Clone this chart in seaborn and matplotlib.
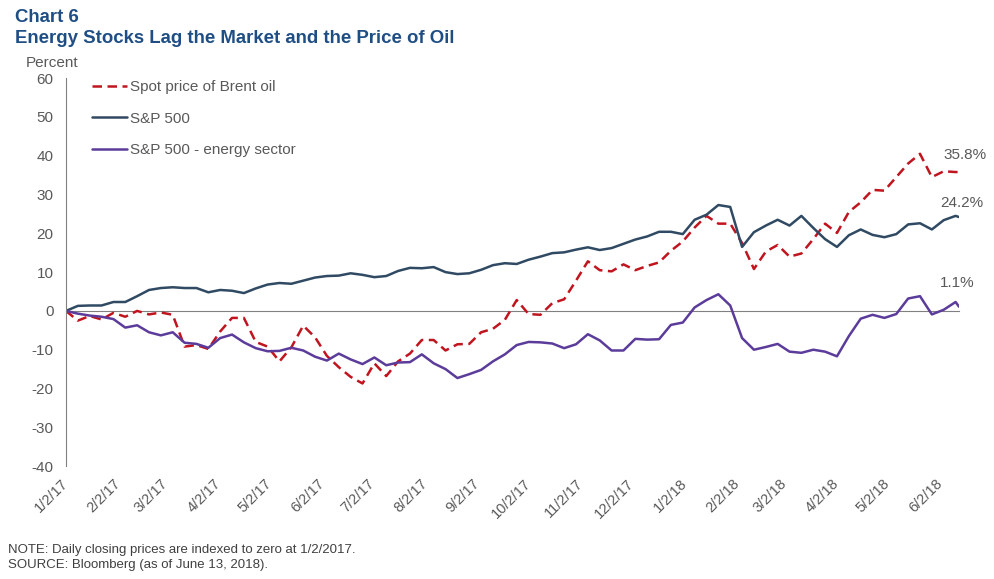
import pandas as pd
import seaborn as sns
import matplotlib.pyplot as plt
import matplotlib.dates as mdates

# weekly readings, 1/2/2017 to 6/13/2018 (percent change)
dates = list(pd.date_range("2017-01-02", "2018-06-11", freq="7D")) + [pd.Timestamp("2018-06-13")]

brent = [0, -2.5, -1.3, -2.2, -0.5, -1.5, 0.0, -0.9, -0.4, -1.0,
         -9.2, -8.8, -9.8, -5.3, -1.8, -1.8, -8.0, -9.2, -13.0, -9.4,
         -3.8, -6.8, -11.6, -14.5, -17.0, -18.7, -13.5, -16.8, -13.0, -11.0,
         -7.5, -7.5, -10.2, -8.6, -8.5, -5.5, -4.6, -2.3, 2.8,
         -0.8, -1.0, 2.0, 3.0, 7.8, 12.8, 10.5, 10.2, 12.0, 10.5,
         11.6, 12.5, 15.5, 17.9, 21.5, 24.5, 22.5, 22.5, 17.5,
         10.8, 15.3, 17.0, 14.0, 14.8, 18.5, 22.5, 20.1, 25.5, 28.0,
         31.2, 31.0, 34.5, 38.0, 40.5, 34.5, 36.0, 35.8, 35.8]

sp500 = [0, 1.3, 1.4, 1.4, 2.3, 2.3, 3.8, 5.4, 5.9, 6.1,
         5.9, 5.9, 4.8, 5.4, 5.2, 4.6, 5.8, 6.8, 7.2, 7.0,
         7.8, 8.6, 9.0, 9.1, 9.7, 9.3, 8.7, 9.0, 10.3, 11.1,
         11.0, 11.3, 10.0, 9.5, 9.7, 10.6, 11.8, 12.3, 12.1,
         13.2, 14.0, 14.9, 15.1, 15.8, 16.4, 15.7, 16.2, 17.3, 18.4,
         19.2, 20.4, 20.4, 19.8, 23.5, 24.8, 27.3, 26.8, 16.5,
         20.3, 22.0, 23.5, 22.0, 24.5, 21.4, 18.5, 16.5, 19.5, 21.0,
         19.6, 19.0, 19.8, 22.3, 22.6, 21.0, 23.4, 24.5, 24.2]

energy = [0, -0.7, -1.2, -1.5, -2.1, -4.3, -3.7, -5.5, -6.3, -5.5,
          -8.2, -8.5, -9.5, -7.0, -6.1, -8.1, -9.6, -10.4, -10.3, -9.5,
          -10.2, -11.8, -12.8, -11.0, -12.5, -13.7, -12.0, -14.0, -13.3, -13.2,
          -11.2, -13.5, -15.0, -17.3, -16.3, -15.2, -13.0, -11.2, -8.8,
          -8.0, -8.1, -8.4, -9.6, -8.6, -6.0, -7.6, -10.2, -10.2, -7.2,
          -7.4, -7.3, -3.6, -3.0, 0.9, 2.8, 4.3, 1.4, -7.0,
          -10.0, -9.3, -8.5, -10.5, -10.8, -10.0, -10.5, -11.7, -6.5, -2.0,
          -1.0, -1.8, -0.8, 3.2, 3.8, -0.9, 0.3, 2.3, 1.1]

df = pd.DataFrame({"date": dates, "brent": brent, "sp500": sp500, "energy": energy})

tick_dates = pd.date_range("2017-01-01", "2018-06-01", freq="MS") + pd.Timedelta(days=1)
tick_labels = [f"{d.month}/{d.day}/{d:%y}" for d in tick_dates]

sns.set_style("white")
plt.rcParams["font.family"] = ["Liberation Sans", "DejaVu Sans"]
plt.rcParams["axes.unicode_minus"] = False

gray = "#595959"
red = "#C0151F"
navy = "#304A63"
purple = "#5C3C9A"

fig = plt.figure(figsize=(9.95, 5.79), dpi=100)
ax = fig.add_axes([0.0663, 0.195, 0.8975, 0.670])

sns.lineplot(data=df, x="date", y="brent", ax=ax, color=red, lw=1.8,
             dashes=False, label="Spot price of Brent oil")
ax.lines[-1].set_dashes((3.8, 2.2))
sns.lineplot(data=df, x="date", y="sp500", ax=ax, color=navy, lw=1.8, label="S&P 500")
sns.lineplot(data=df, x="date", y="energy", ax=ax, color=purple, lw=1.8,
             label="S&P 500 - energy sector")

ax.set_xlim(dates[0], dates[-1])
ax.set_ylim(-40, 60)
ax.set_yticks(range(-40, 61, 10))
ax.set_xlabel("")
ax.set_ylabel("")

for s in ["top", "right"]:
    ax.spines[s].set_visible(False)
ax.spines["left"].set_color("#808080")
ax.spines["bottom"].set_position(("data", 0))
ax.spines["bottom"].set_color("#808080")
ax.spines["bottom"].set_zorder(1)

ax.set_xticks(tick_dates)
ax.tick_params(axis="x", direction="out", length=4, color="#808080", labelbottom=False)
ax.tick_params(axis="y", direction="out", length=4, color="#808080", labelsize=11,
               labelcolor=gray, pad=5)

lab = ax.secondary_xaxis(0)
lab.set_xticks(tick_dates)
lab.set_xticklabels(tick_labels)
lab.spines["bottom"].set_visible(False)
lab.tick_params(length=0, labelsize=10.5, labelcolor=gray, pad=11)
for t in lab.get_xticklabels():
    t.set_rotation(45)
    t.set_ha("right")
    t.set_va("center")
    t.set_rotation_mode("anchor")

leg = ax.legend(loc="upper left", bbox_to_anchor=(0.014, 1.03), frameon=False,
                fontsize=11, handlelength=2.3, handletextpad=0.2, labelspacing=1.15)
for t in leg.get_texts():
    t.set_color(gray)

ends = [("35.8%", brent[-1], (4, 7)), ("24.2%", sp500[-1], (2, 5)), ("1.1%", energy[-1], (-1, 12))]
for txt, val, off in ends:
    ax.annotate(txt, (mdates.date2num(dates[-1]), val), xytext=off, textcoords="offset points",
                ha="center", va="bottom", fontsize=11, color=gray)

fig.text(0.015, 0.962, "Chart 6", fontsize=13.4, fontweight="bold", color="#1F4E85", va="baseline")
fig.text(0.015, 0.926, "Energy Stocks Lag the Market and the Price of Oil", fontsize=13.4,
         fontweight="bold", color="#1F4E85", va="baseline")
fig.text(0.026, 0.884, "Percent", fontsize=11, color=gray, va="baseline")
fig.text(0.008, 0.040, "NOTE: Daily closing prices are indexed to zero at 1/2/2017.",
         fontsize=9.5, color="#404040", va="bottom")
fig.text(0.008, 0.013, "SOURCE: Bloomberg (as of June 13, 2018).",
         fontsize=9.5, color="#404040", va="bottom")

fig.savefig("out.png", dpi=100)
